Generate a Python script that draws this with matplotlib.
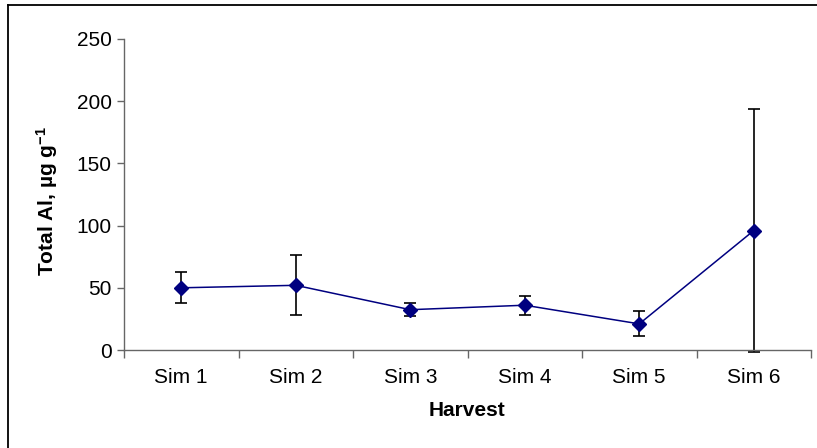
import matplotlib
matplotlib.use("Agg")
import matplotlib.pyplot as plt
from matplotlib.lines import Line2D
import numpy as np

categories = ["Sim 1", "Sim 2", "Sim 3", "Sim 4", "Sim 5", "Sim 6"]
values = [50, 52, 32.4, 36, 21, 96]
errors = [12.5, 24, 5, 7.7, 10, 97.5]
yticks = [0, 50, 100, 150, 200, 250]

plt.rcParams['font.family'] = ['Liberation Sans', 'DejaVu Sans']
plt.rcParams['mathtext.fontset'] = 'custom'
plt.rcParams['mathtext.rm'] = 'Liberation Sans:bold'
plt.rcParams['mathtext.bf'] = 'Liberation Sans:bold'
plt.rcParams['mathtext.default'] = 'bf'

W, H = 817, 448
fig = plt.figure(figsize=(W / 100, H / 100), dpi=100)
ax = fig.add_axes([124 / W, 1 - 350 / H, (811 - 124) / W, (350 - 39) / H])

x = np.arange(len(categories))
eb = ax.errorbar(x, values, yerr=errors, fmt='none', ecolor='black', elinewidth=1.2,
                 capsize=4.5, capthick=1.2, zorder=2)
for art in eb.lines[1]:
    art.set_clip_on(False)
for art in eb.lines[2]:
    art.set_clip_on(False)
ax.plot(x, values, color='#000080', linewidth=1.1, marker='D', markersize=7,
        markerfacecolor='#000080', markeredgecolor='#000080', zorder=3, clip_on=False)

ax.set_xlim(-0.5, len(categories) - 0.5)
ax.set_ylim(0, 250)
ax.set_yticks(yticks)
ax.set_yticklabels([str(t) for t in yticks])

ax.set_xticks(np.arange(-0.5, len(categories) + 0.5, 1.0))
ax.set_xticklabels([])
ax.set_xticks(x, minor=True)
ax.set_xticklabels(categories, minor=True)
ax.tick_params(axis='x', which='major', length=6, width=1, color='#666666', direction='out')
ax.tick_params(axis='x', which='minor', length=0, pad=13, labelsize=15)
ax.tick_params(axis='y', which='major', length=5, width=1, color='#666666',
               direction='out', pad=4, labelsize=15)

for s in ['top', 'right']:
    ax.spines[s].set_visible(False)
for s in ['left', 'bottom']:
    ax.spines[s].set_color('#666666')
    ax.spines[s].set_linewidth(1)
ax.spines['left'].set_bounds(0, 250)

ax.set_xlabel('Harvest', fontsize=15, fontweight='bold', labelpad=10)
ax.set_ylabel('Total Al, µg g$^{-1}$', fontsize=15, fontweight='bold')
ax.yaxis.set_label_coords((47 - 124) / (811 - 124), 0.48)
ax.yaxis.label.set_verticalalignment('center')

# outer chart border (partially cropped in the original)
fig.add_artist(Line2D([7.5 / W, 7.5 / W], [0, 1 - 5.5 / H], transform=fig.transFigure,
                      color='black', linewidth=1.3))
fig.add_artist(Line2D([7.5 / W, 1], [1 - 5.5 / H, 1 - 5.5 / H], transform=fig.transFigure,
                      color='black', linewidth=1.3))

fig.savefig('out.png', dpi=100)
